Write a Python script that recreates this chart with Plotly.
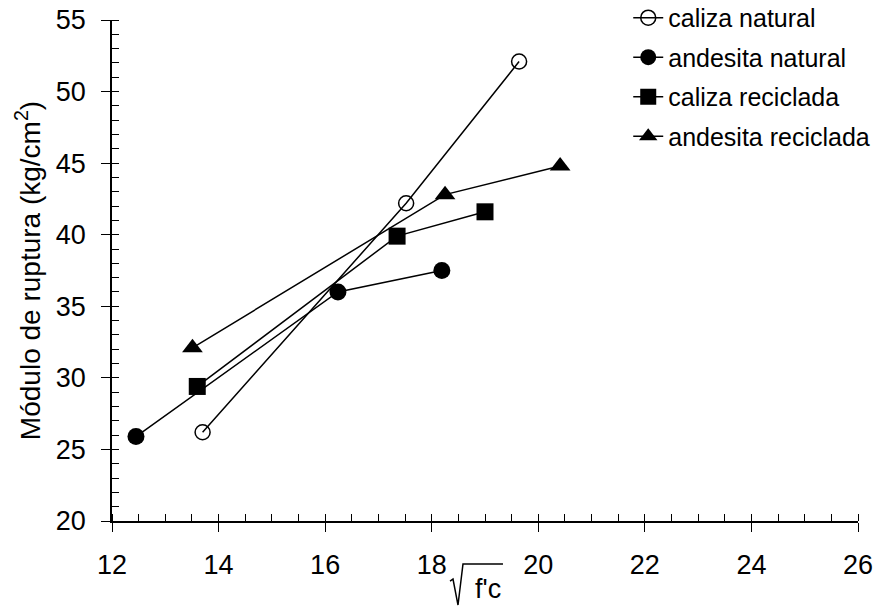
import plotly.graph_objects as go

# Measured values: modulus of rupture vs square root of f'c
caliza_natural_x = [13.70, 17.52, 19.64]
caliza_natural_y = [26.2, 42.2, 52.1]

andesita_natural_x = [12.45, 16.24, 18.19]
andesita_natural_y = [25.9, 36.0, 37.5]

caliza_reciclada_x = [13.60, 17.35, 19.00]
caliza_reciclada_y = [29.4, 39.9, 41.6]

andesita_reciclada_x = [13.51, 18.25, 20.41]
andesita_reciclada_y = [32.1, 42.8, 44.8]

series_names = ["caliza natural", "andesita natural", "caliza reciclada", "andesita reciclada"]
x_ticks = [12, 14, 16, 18, 20, 22, 24, 26]
y_ticks = [20, 25, 30, 35, 40, 45, 50, 55]

FONT = "Liberation Sans, Arial, sans-serif"
fig = go.Figure()

styles = [
    dict(symbol="circle-open", size=15, line=dict(width=1.5, color="black")),
    dict(symbol="circle", size=17, color="black"),
    dict(symbol="square", size=17, color="black"),
    dict(symbol="triangle-up", size=18, color="black"),
]
data = [
    (caliza_natural_x, caliza_natural_y),
    (andesita_natural_x, andesita_natural_y),
    (caliza_reciclada_x, caliza_reciclada_y),
    (andesita_reciclada_x, andesita_reciclada_y),
]
for name, (xs, ys), mk in zip(series_names, data, styles):
    fig.add_trace(go.Scatter(
        x=xs, y=ys, name=name, mode="lines+markers",
        line=dict(color="black", width=1.5),
        marker=mk, legendgroup=name,
    ))

axis_common = dict(
    showgrid=False, zeroline=False, showline=True, linecolor="black",
    linewidth=1.5, ticks="outside", ticklen=9, tickwidth=1.2, tickcolor="black",
    tickfont=dict(family=FONT, size=27, color="black"),
    ticklabelstandoff=10,
)

fig.update_layout(
    width=878, height=607,
    margin=dict(l=112, r=20, t=20, b=86, autoexpand=False),
    paper_bgcolor="white", plot_bgcolor="white",
    font=dict(family=FONT, size=25, color="black"),
    xaxis=dict(
        range=[12, 26], tickvals=x_ticks, **axis_common,
        minor=dict(dtick=0.5, ticks="inside", ticklen=7, tickcolor="black", tickwidth=1),
    ),
    yaxis=dict(
        range=[20, 55], tickvals=y_ticks, **axis_common,
        minor=dict(dtick=1, ticks="inside", ticklen=7, tickcolor="black", tickwidth=1),
        title=dict(text="Módulo de ruptura (kg/cm<sup>2</sup>)", standoff=7,
                   font=dict(family=FONT, size=28)),
    ),
    # inner halves of the major ticks so they cross the axis lines
    xaxis2=dict(range=[12, 26], tickvals=x_ticks, overlaying="x", anchor="y",
                showticklabels=False, showgrid=False, zeroline=False,
                ticks="inside", ticklen=5, tickwidth=1.2, tickcolor="black"),
    yaxis2=dict(range=[20, 55], tickvals=y_ticks, overlaying="y", anchor="x",
                showticklabels=False, showgrid=False, zeroline=False,
                ticks="inside", ticklen=5, tickwidth=1.2, tickcolor="black"),
    legend=dict(x=0.692, y=1.05, xanchor="left", yanchor="top",
                font=dict(family=FONT, size=25), tracegroupgap=4,
                bgcolor="rgba(0,0,0,0)"),
    showlegend=True,
)

# x-axis label: square-root sign over f'c
fig.add_annotation(
    xref="paper", yref="paper", x=(488 - 112) / 746, y=-0.135,
    text="f'c", showarrow=False, font=dict(family=FONT, size=27, color="black"),
    xanchor="center", yanchor="middle",
)
def px(xp, yp):
    return f"{(xp - 112) / 746:.4f},{(521 - yp) / 501:.4f}"
fig.add_shape(
    type="path", xref="paper", yref="paper",
    path=f"M{px(450, 581)} L{px(453, 579)} L{px(458, 605)} L{px(463, 564)} L{px(503, 564)}",
    line=dict(color="black", width=1.5),
)

fig.write_html("out.html")
